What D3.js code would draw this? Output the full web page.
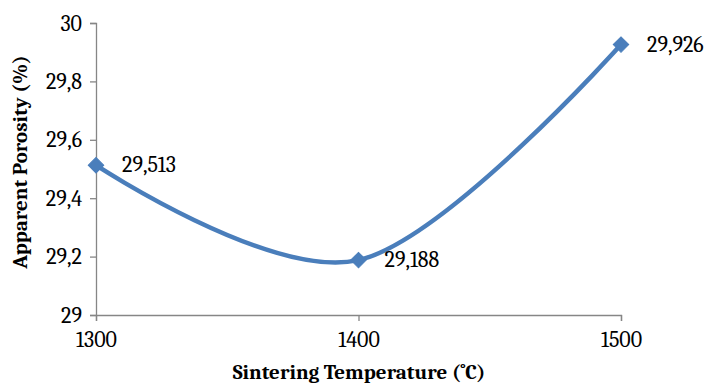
<!DOCTYPE html>
<html>
<head>
<meta charset="utf-8">
<script src="https://cdn.jsdelivr.net/npm/d3@7"></script>
<style>
  html, body { margin: 0; padding: 0; background: #fff; }
  svg { display: block; }
</style>
</head>
<body>
<svg id="chart" width="709" height="383"></svg>
<script>
// Sintering temperature vs. apparent porosity
const temperatures = [1300, 1400, 1500];
const porosity = [29.513, 29.188, 29.926];
const yTicks = [29, 29.2, 29.4, 29.6, 29.8, 30];

const svg = d3.select("#chart");
const plotLeft = 96, plotRight = 621, plotTop = 23, plotBottom = 315;
const serif = "Cambria, Caladea, 'Liberation Serif', 'DejaVu Serif', serif";
const axisColor = "#868686";
const lineColor = "#4a7ebb";

const x = d3.scalePoint().domain(temperatures).range([plotLeft, plotRight]);
const y = d3.scaleLinear().domain([29, 30]).range([plotBottom, plotTop]);

const fmt = v => String(v).replace(".", ",");

// Y axis
const yAxis = svg.append("g")
  .attr("transform", `translate(${plotLeft},0)`)
  .call(d3.axisLeft(y).tickValues(yTicks).tickSize(6).tickPadding(8).tickFormat(fmt));
// X axis
const xAxis = svg.append("g")
  .attr("transform", `translate(0,${plotBottom})`)
  .call(d3.axisBottom(x).tickSize(6).tickPadding(10).tickFormat(d => d));

[yAxis, xAxis].forEach(g => {
  g.select(".domain").attr("stroke", axisColor).attr("stroke-width", 1.3);
  g.selectAll(".tick line").attr("stroke", axisColor).attr("stroke-width", 1.3);
  g.selectAll(".tick text")
    .attr("fill", "#000")
    .style("font-family", serif)
    .style("font-size", "22px");
});

// Smoothed series line
const pts = temperatures.map((t, i) => [x(t), y(porosity[i])]);
svg.append("path")
  .attr("d", d3.line().curve(d3.curveCardinal.tension(0))(pts))
  .attr("fill", "none")
  .attr("stroke", lineColor)
  .attr("stroke-width", 4.5)
  .attr("stroke-linecap", "round");

// Diamond markers
svg.selectAll("path.marker")
  .data(pts)
  .join("path")
  .attr("class", "marker")
  .attr("d", d3.symbol(d3.symbolSquare, 120))
  .attr("transform", d => `translate(${d[0]},${d[1]}) rotate(45)`)
  .attr("fill", lineColor)
  .attr("stroke", lineColor)
  .attr("stroke-width", 1);

// Data labels
svg.selectAll("text.vlabel")
  .data(temperatures)
  .join("text")
  .attr("class", "vlabel")
  .attr("x", d => x(d) + 26)
  .attr("y", (d, i) => y(porosity[i]) + 7)
  .style("font-family", serif)
  .style("font-size", "22px")
  .attr("fill", "#000")
  .text((d, i) => fmt(porosity[i]));

// Axis titles
svg.append("text")
  .attr("x", 359).attr("y", 379)
  .attr("text-anchor", "middle")
  .style("font-family", serif)
  .style("font-size", "21px")
  .style("font-weight", "bold")
  .text("Sintering Temperature (˚C)");

svg.append("text")
  .attr("transform", "translate(27,162) rotate(-90)")
  .attr("text-anchor", "middle")
  .style("font-family", serif)
  .style("font-size", "21px")
  .style("font-weight", "bold")
  .text("Apparent Porosity (%)");
</script>
</body>
</html>
